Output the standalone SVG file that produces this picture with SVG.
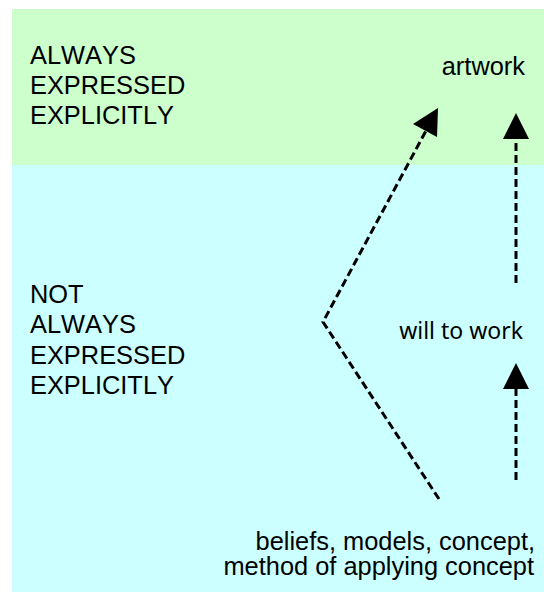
<svg xmlns="http://www.w3.org/2000/svg" width="544" height="592" viewBox="0 0 544 592">
<style>
.t{font-family:"Liberation Sans",Arial,sans-serif;font-size:25.4px;font-kerning:none;fill:#000}
.w{font-family:"Noto Sans","DejaVu Sans",sans-serif;font-size:23px;fill:#000}
.c{fill:none;stroke:#000;stroke-width:3;stroke-dasharray:8,4}
.h{fill:#000;stroke:none}
</style>
<rect x="0" y="0" width="544" height="592" fill="#fff"/>
<g id="zone-explicit">
<rect x="12" y="9" width="532" height="156" fill="#ccffcc"/>
<text class="t" x="30" y="64">ALWAYS</text>
<text class="t" x="30" y="94">EXPRESSED</text>
<text class="t" x="30" y="124">EXPLICITLY</text>
</g>
<g id="zone-implicit">
<rect x="12" y="165" width="532" height="427" fill="#ccffff"/>
<text class="t" x="30" y="303">NOT</text>
<text class="t" x="30" y="333">ALWAYS</text>
<text class="t" x="30" y="364">EXPRESSED</text>
<text class="t" x="30" y="394">EXPLICITLY</text>
</g>
<g id="artwork"><text class="t" x="525" y="75" text-anchor="end">artwork</text></g>
<g id="will"><text class="w" x="523" y="339" text-anchor="end">will to work</text></g>
<g id="beliefs">
<text class="t" x="535" y="550" text-anchor="end">beliefs, models, concept,</text>
<text class="t" x="534" y="575" text-anchor="end">method of applying concept</text>
</g>
<g id="connectors">
<polyline class="c" points="439,499 323,322 428,127"/>
<polygon class="h" points="438,108 413,124 437,137"/>
<line class="c" x1="516" y1="283" x2="516" y2="138"/>
<polygon class="h" points="516,113 503,139 529,139"/>
<line class="c" x1="516" y1="480" x2="516" y2="387"/>
<polygon class="h" points="516,363 503,389 529,389"/>
</g>
</svg>
